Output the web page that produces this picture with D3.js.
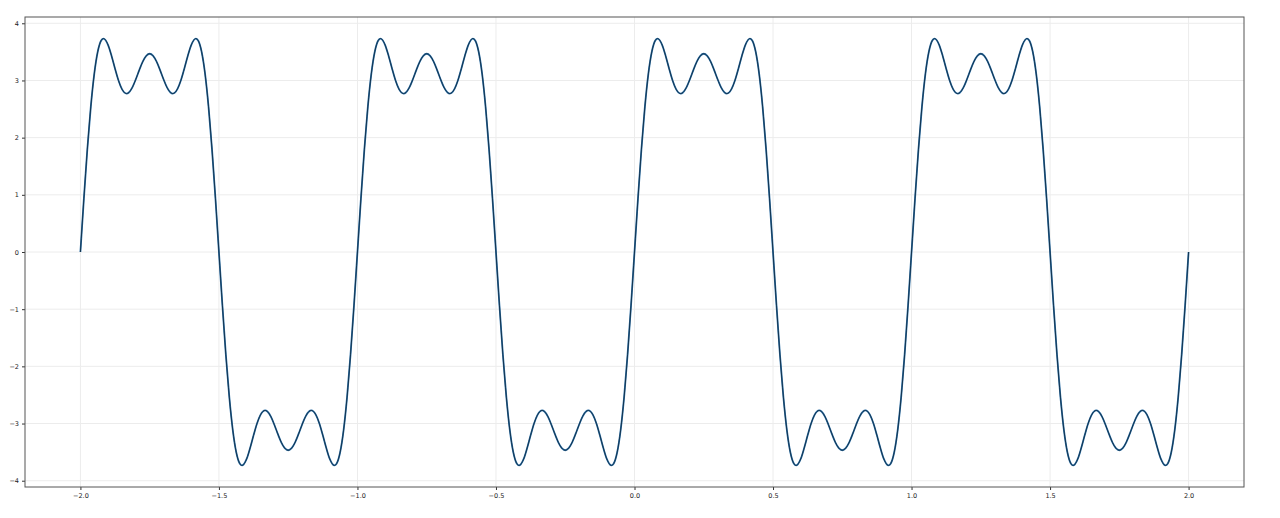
<!DOCTYPE html>
<html>
<head>
<meta charset="utf-8">
<script src="https://cdn.jsdelivr.net/npm/d3@7"></script>
<style>
  html, body { margin: 0; padding: 0; background: #fff; }
  svg { display: block; }
</style>
</head>
<body>
<svg id="chart" width="1280" height="518"></svg>
<script>
// Sample points (x, y)
const xs = [
  -2, -1.9875, -1.975, -1.9625, -1.95, -1.9375, -1.925, -1.9167, -1.9, -1.8875, -1.875, -1.8625, -1.85, -1.8333, -1.825, -1.8125, -1.8, -1.7875, -1.775, -1.7625, -1.75, -1.7375, -1.725, -1.7125, -1.7, -1.6875, -1.675, -1.6667, -1.65, -1.6375, -1.625, -1.6125, -1.6, -1.5833, -1.575, -1.5625, -1.55, -1.5375, -1.525, -1.5125,
  -1.5, -1.4875, -1.475, -1.4625, -1.45, -1.4375, -1.425, -1.4167, -1.4, -1.3875, -1.375, -1.3625, -1.35, -1.3333, -1.325, -1.3125, -1.3, -1.2875, -1.275, -1.2625, -1.25, -1.2375, -1.225, -1.2125, -1.2, -1.1875, -1.175, -1.1667, -1.15, -1.1375, -1.125, -1.1125, -1.1, -1.0833, -1.075, -1.0625, -1.05, -1.0375, -1.025, -1.0125,
  -1, -0.9875, -0.975, -0.9625, -0.95, -0.9375, -0.925, -0.9167, -0.9, -0.8875, -0.875, -0.8625, -0.85, -0.8333, -0.825, -0.8125, -0.8, -0.7875, -0.775, -0.7625, -0.75, -0.7375, -0.725, -0.7125, -0.7, -0.6875, -0.675, -0.6667, -0.65, -0.6375, -0.625, -0.6125, -0.6, -0.5833, -0.575, -0.5625, -0.55, -0.5375, -0.525, -0.5125,
  -0.5, -0.4875, -0.475, -0.4625, -0.45, -0.4375, -0.425, -0.4167, -0.4, -0.3875, -0.375, -0.3625, -0.35, -0.3333, -0.325, -0.3125, -0.3, -0.2875, -0.275, -0.2625, -0.25, -0.2375, -0.225, -0.2125, -0.2, -0.1875, -0.175, -0.1667, -0.15, -0.1375, -0.125, -0.1125, -0.1, -0.0833, -0.075, -0.0625, -0.05, -0.0375, -0.025, -0.0125,
  0, 0.0125, 0.025, 0.0375, 0.05, 0.0625, 0.075, 0.0833, 0.1, 0.1125, 0.125, 0.1375, 0.15, 0.1667, 0.175, 0.1875, 0.2, 0.2125, 0.225, 0.2375, 0.25, 0.2625, 0.275, 0.2875, 0.3, 0.3125, 0.325, 0.3333, 0.35, 0.3625, 0.375, 0.3875, 0.4, 0.4167, 0.425, 0.4375, 0.45, 0.4625, 0.475, 0.4875,
  0.5, 0.5125, 0.525, 0.5375, 0.55, 0.5625, 0.575, 0.5833, 0.6, 0.6125, 0.625, 0.6375, 0.65, 0.6667, 0.675, 0.6875, 0.7, 0.7125, 0.725, 0.7375, 0.75, 0.7625, 0.775, 0.7875, 0.8, 0.8125, 0.825, 0.8333, 0.85, 0.8625, 0.875, 0.8875, 0.9, 0.9167, 0.925, 0.9375, 0.95, 0.9625, 0.975, 0.9875,
  1, 1.0125, 1.025, 1.0375, 1.05, 1.0625, 1.075, 1.0833, 1.1, 1.1125, 1.125, 1.1375, 1.15, 1.1667, 1.175, 1.1875, 1.2, 1.2125, 1.225, 1.2375, 1.25, 1.2625, 1.275, 1.2875, 1.3, 1.3125, 1.325, 1.3333, 1.35, 1.3625, 1.375, 1.3875, 1.4, 1.4167, 1.425, 1.4375, 1.45, 1.4625, 1.475, 1.4875,
  1.5, 1.5125, 1.525, 1.5375, 1.55, 1.5625, 1.575, 1.5833, 1.6, 1.6125, 1.625, 1.6375, 1.65, 1.6667, 1.675, 1.6875, 1.7, 1.7125, 1.725, 1.7375, 1.75, 1.7625, 1.775, 1.7875, 1.8, 1.8125, 1.825, 1.8333, 1.85, 1.8625, 1.875, 1.8875, 1.9, 1.9167, 1.925, 1.9375, 1.95, 1.9625, 1.975, 1.9875,
  2
];
const ys = [
  0, 0.931, 1.796, 2.539, 3.115, 3.502, 3.699, 3.733, 3.619, 3.428, 3.206, 2.999, 2.848, 2.771, 2.790, 2.879, 3.021, 3.182, 3.328, 3.430, 3.467, 3.430, 3.328, 3.182, 3.021, 2.879, 2.790, 2.771, 2.848, 2.999, 3.206, 3.428, 3.619, 3.733, 3.699, 3.502, 3.115, 2.539, 1.796, 0.931,
  0, -0.931, -1.796, -2.539, -3.115, -3.502, -3.699, -3.733, -3.619, -3.428, -3.206, -2.999, -2.848, -2.771, -2.790, -2.879, -3.021, -3.182, -3.328, -3.430, -3.467, -3.430, -3.328, -3.182, -3.021, -2.879, -2.790, -2.771, -2.848, -2.999, -3.206, -3.428, -3.619, -3.733, -3.699, -3.502, -3.115, -2.539, -1.796, -0.931,
  0, 0.931, 1.796, 2.539, 3.115, 3.502, 3.699, 3.733, 3.619, 3.428, 3.206, 2.999, 2.848, 2.771, 2.790, 2.879, 3.021, 3.182, 3.328, 3.430, 3.467, 3.430, 3.328, 3.182, 3.021, 2.879, 2.790, 2.771, 2.848, 2.999, 3.206, 3.428, 3.619, 3.733, 3.699, 3.502, 3.115, 2.539, 1.796, 0.931,
  0, -0.931, -1.796, -2.539, -3.115, -3.502, -3.699, -3.733, -3.619, -3.428, -3.206, -2.999, -2.848, -2.771, -2.790, -2.879, -3.021, -3.182, -3.328, -3.430, -3.467, -3.430, -3.328, -3.182, -3.021, -2.879, -2.790, -2.771, -2.848, -2.999, -3.206, -3.428, -3.619, -3.733, -3.699, -3.502, -3.115, -2.539, -1.796, -0.931,
  0, 0.931, 1.796, 2.539, 3.115, 3.502, 3.699, 3.733, 3.619, 3.428, 3.206, 2.999, 2.848, 2.771, 2.790, 2.879, 3.021, 3.182, 3.328, 3.430, 3.467, 3.430, 3.328, 3.182, 3.021, 2.879, 2.790, 2.771, 2.848, 2.999, 3.206, 3.428, 3.619, 3.733, 3.699, 3.502, 3.115, 2.539, 1.796, 0.931,
  0, -0.931, -1.796, -2.539, -3.115, -3.502, -3.699, -3.733, -3.619, -3.428, -3.206, -2.999, -2.848, -2.771, -2.790, -2.879, -3.021, -3.182, -3.328, -3.430, -3.467, -3.430, -3.328, -3.182, -3.021, -2.879, -2.790, -2.771, -2.848, -2.999, -3.206, -3.428, -3.619, -3.733, -3.699, -3.502, -3.115, -2.539, -1.796, -0.931,
  0, 0.931, 1.796, 2.539, 3.115, 3.502, 3.699, 3.733, 3.619, 3.428, 3.206, 2.999, 2.848, 2.771, 2.790, 2.879, 3.021, 3.182, 3.328, 3.430, 3.467, 3.430, 3.328, 3.182, 3.021, 2.879, 2.790, 2.771, 2.848, 2.999, 3.206, 3.428, 3.619, 3.733, 3.699, 3.502, 3.115, 2.539, 1.796, 0.931,
  0, -0.931, -1.796, -2.539, -3.115, -3.502, -3.699, -3.733, -3.619, -3.428, -3.206, -2.999, -2.848, -2.771, -2.790, -2.879, -3.021, -3.182, -3.328, -3.430, -3.467, -3.430, -3.328, -3.182, -3.021, -2.879, -2.790, -2.771, -2.848, -2.999, -3.206, -3.428, -3.619, -3.733, -3.699, -3.502, -3.115, -2.539, -1.796, -0.931,
  0
];
const xTicks = [-2.0, -1.5, -1.0, -0.5, 0.0, 0.5, 1.0, 1.5, 2.0];
const yTicks = [-4, -3, -2, -1, 0, 1, 2, 3, 4];

const svg = d3.select("#chart");
const L = 25, R = 1244, T = 17, B = 487;

const x = d3.scaleLinear().domain([-2.2, 2.2]).range([L, R]);
const y = d3.scaleLinear().domain([-4.11, 4.11]).range([B, T]);

const fmtX = d => d3.format(".1f")(d).replace("-", "\u2212");
const fmtY = d => d3.format("d")(d).replace("-", "\u2212");

// grid
const grid = svg.append("g");
grid.selectAll("line.gx").data(xTicks).join("line")
  .attr("x1", d => x(d)).attr("x2", d => x(d))
  .attr("y1", T).attr("y2", B)
  .attr("stroke", "#ececec").attr("stroke-width", 1);
grid.selectAll("line.gy").data(yTicks).join("line")
  .attr("y1", d => y(d)).attr("y2", d => y(d))
  .attr("x1", L).attr("x2", R)
  .attr("stroke", "#ececec").attr("stroke-width", 1);

// line
const pts = xs.map((v, i) => [v, ys[i]]);
const line = d3.line().x(d => x(d[0])).y(d => y(d[1])).curve(d3.curveMonotoneX);
svg.append("path").datum(pts).attr("d", line)
  .attr("fill", "none").attr("stroke", "#2a6ea6").attr("stroke-width", 1.8);
svg.append("path").datum(pts).attr("d", line)
  .attr("fill", "none").attr("stroke", "#0e2638").attr("stroke-width", 0.8);

// axes
const xAxis = d3.axisBottom(x).tickValues(xTicks).tickFormat(fmtX).tickSize(3).tickPadding(3);
const yAxis = d3.axisLeft(y).tickValues(yTicks).tickFormat(fmtY).tickSize(3).tickPadding(3);
const gx = svg.append("g").attr("transform", `translate(0,${B})`).call(xAxis);
const gy = svg.append("g").attr("transform", `translate(${L},0)`).call(yAxis);
[gx, gy].forEach(g => {
  g.select(".domain").remove();
  g.selectAll(".tick line").attr("stroke", "#333");
  g.selectAll(".tick text")
    .attr("fill", "#222")
    .style("font-family", "'DejaVu Sans', sans-serif")
    .style("font-size", "6.5px");
});

// frame
svg.append("rect").attr("x", L).attr("y", T).attr("width", R - L).attr("height", B - T)
  .attr("fill", "none").attr("stroke", "#555").attr("stroke-width", 1);
</script>
</body>
</html>
